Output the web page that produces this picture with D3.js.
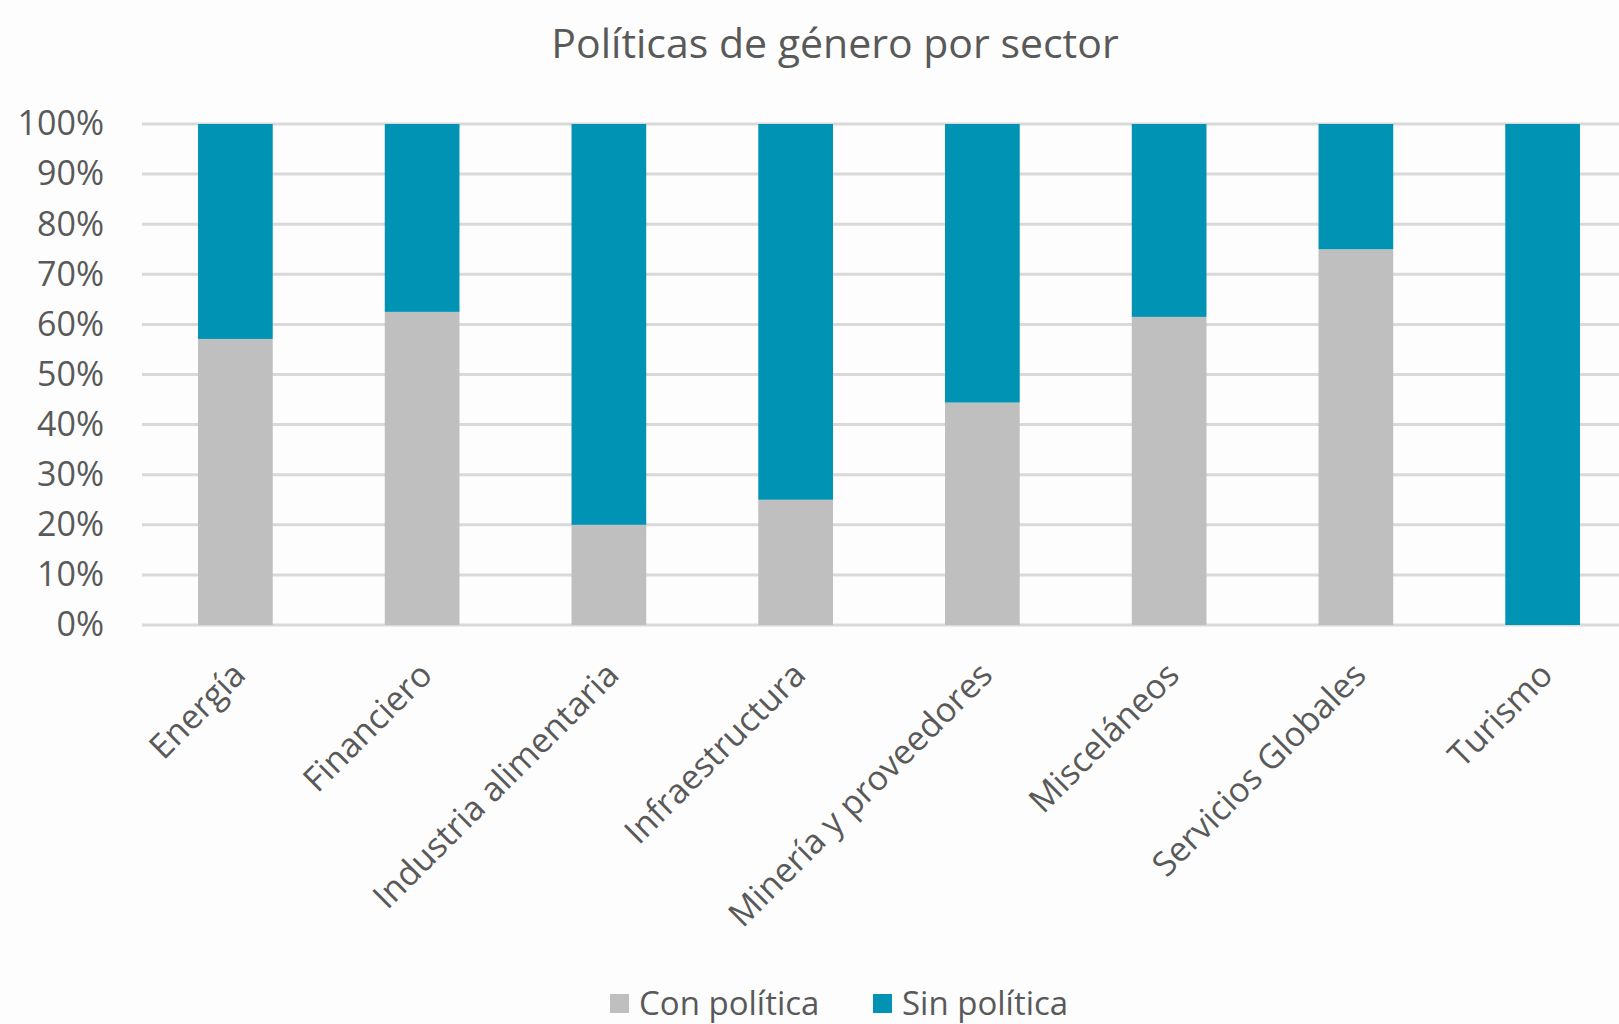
<!DOCTYPE html>
<html>
<head>
<meta charset="utf-8">
<script src="https://cdn.jsdelivr.net/npm/d3@7.9.0/dist/d3.min.js"></script>
<style>
  html, body { margin: 0; padding: 0; background: #fdfdfd; }
  svg { display: block; font-family: "Open Sans", sans-serif; }
</style>
</head>
<body>
<div id="chart"></div>
<script>
// Sectors and share of companies with / without gender policy
const sectors = ['Energía', 'Financiero', 'Industria alimentaria', 'Infraestructura',
  'Minería y proveedores', 'Misceláneos', 'Servicios Globales', 'Turismo'];
const conPolitica = [0.571, 0.625, 0.20, 0.25, 0.444, 0.615, 0.75, 0];
const sinPolitica = conPolitica.map(v => 1 - v);
const seriesNames = ['Con política', 'Sin política'];
const yTicks = [0, 0.1, 0.2, 0.3, 0.4, 0.5, 0.6, 0.7, 0.8, 0.9, 1];

const width = 1619;
const height = 1024;
const colors = { 'Con política': '#bfbfbf', 'Sin política': '#0093b3' };
const textColor = '#595959';

const rows = sectors.map((s, i) => ({
  sector: s,
  'Con política': conPolitica[i],
  'Sin política': sinPolitica[i],
}));

const svg = d3.select('#chart')
  .append('svg')
  .attr('width', width)
  .attr('height', height);

const x = d3.scaleBand()
  .domain(sectors)
  .range([142, 1636])
  .paddingInner(0.6)
  .paddingOuter(0.3);

const y = d3.scaleLinear().domain([0, 1]).range([625, 124]);

// title
svg.append('text')
  .attr('x', 835)
  .attr('y', 58)
  .attr('text-anchor', 'middle')
  .attr('fill', textColor)
  .style('font-size', '41px')
  .text('Políticas de género por sector');

// gridlines
svg.append('g')
  .attr('class', 'grid')
  .selectAll('line')
  .data(yTicks)
  .join('line')
  .attr('x1', 142)
  .attr('x2', width)
  .attr('y1', d => y(d))
  .attr('y2', d => y(d))
  .attr('stroke', '#d9d9d9')
  .attr('stroke-width', 3);

// y axis labels
const yAxis = svg.append('g')
  .attr('transform', 'translate(142,0)')
  .call(d3.axisLeft(y).tickValues(yTicks).tickFormat(d3.format('.0%')).tickSize(0).tickPadding(38));
yAxis.select('.domain').remove();
yAxis.selectAll('text')
  .attr('fill', textColor)
  .style('font-size', '34px')
  .style('font-family', '"Open Sans", sans-serif');

// stacked bars
const stacked = d3.stack().keys(seriesNames)(rows);
svg.append('g')
  .selectAll('g')
  .data(stacked)
  .join('g')
  .attr('fill', d => colors[d.key])
  .selectAll('rect')
  .data(d => d)
  .join('rect')
  .attr('x', d => x(d.data.sector))
  .attr('width', x.bandwidth())
  .attr('y', d => y(d[1]))
  .attr('height', d => y(d[0]) - y(d[1]));

// x axis labels
const xAxis = svg.append('g')
  .attr('transform', 'translate(0,625)')
  .call(d3.axisBottom(x).tickSize(0).tickPadding(0));
xAxis.select('.domain').remove();
xAxis.selectAll('text')
  .attr('fill', textColor)
  .style('font-size', '34px')
  .style('font-family', '"Open Sans", sans-serif')
  .attr('text-anchor', 'end')
  .attr('dy', null)
  .attr('y', 0)
  .attr('transform', 'translate(12,52) rotate(-45)');

// legend
const legend = svg.append('g');
const legendX = [610, 873];
seriesNames.forEach((name, i) => {
  const g = legend.append('g').attr('transform', `translate(${legendX[i]},1003)`);
  g.append('rect')
    .attr('x', 0)
    .attr('y', -9)
    .attr('width', 19)
    .attr('height', 19)
    .attr('fill', colors[name]);
  g.append('text')
    .attr('x', 29)
    .attr('y', 12)
    .attr('fill', textColor)
    .style('font-size', '33px')
    .text(name);
});
</script>
</body>
</html>
